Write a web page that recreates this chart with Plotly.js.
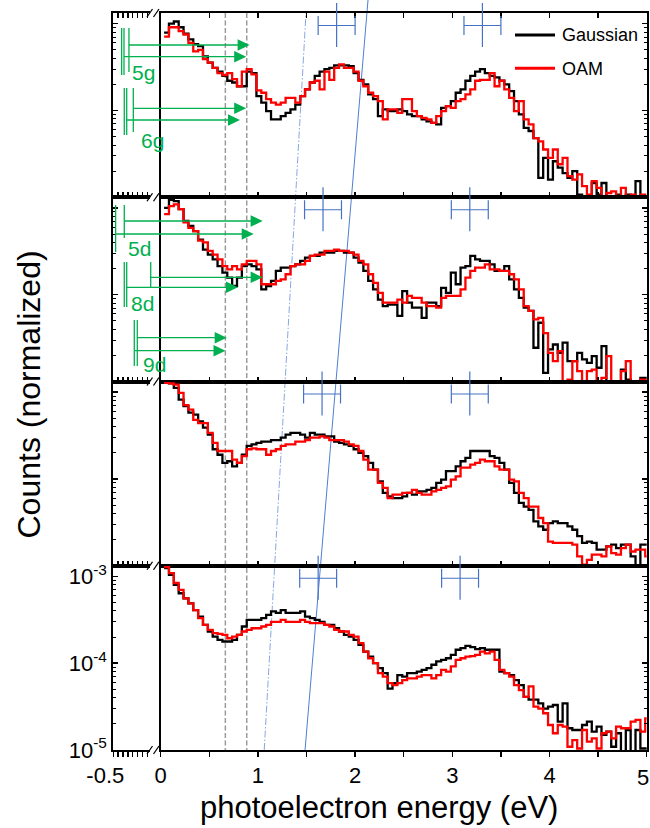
<!DOCTYPE html>
<html><head><meta charset="utf-8">
<script src="https://cdn.plot.ly/plotly-3.0.1.min.js"></script>
<style>html,body{margin:0;padding:0;background:#fff}#chart{width:650px;height:828px}</style>
</head><body><div id="chart"></div>
<script>
// ---------- data ----------
const binStart = 0.035, binWidth = 0.05;   // histogram bins (eV)
const seriesNames = ['Gaussian', 'OAM'];

const gaussP1 = [7.9e-4,1.0e-3,1.06e-3,9.1e-4,7.7e-4,6.6e-4,5.8e-4,5.5e-4,4.2e-4,3.55e-4,
 3.1e-4,2.8e-4,2.5e-4,2.2e-4,2.1e-4,1.9e-4,1.9e-4,2.8e-4,2.7e-4,1.46e-4,
 1.23e-4,9.8e-5,7.9e-5,7.9e-5,8.6e-5,9.4e-5,1.03e-4,1.17e-4,1.46e-4,1.75e-4,
 2.1e-4,2.5e-4,2.8e-4,3.0e-4,3.1e-4,3.3e-4,3.3e-4,3.3e-4,3.25e-4,2.7e-4,
 2.25e-4,2.0e-4,1.53e-4,1.35e-4,8.6e-5,1.03e-4,9.8e-5,9.8e-5,1.03e-4,9.8e-5,
 9.0e-5,8.6e-5,8.6e-5,7.9e-5,7.5e-5,7.2e-5,6.9e-5,1.07e-4,1.12e-4,1.28e-4,
 1.6e-4,1.75e-4,2.2e-4,2.5e-4,2.8e-4,3.0e-4,2.7e-4,2.5e-4,2.4e-4,2.2e-4,
 2.0e-4,1.67e-4,1.28e-4,9.0e-5,6.3e-5,5.8e-5,4.8e-5,1.67e-5,2.85e-5,1.6e-5,
 2.6e-5,2.2e-5,1.9e-5,1.67e-5,2.0e-5,1.07e-5,9e-6,1.03e-5,1.46e-5,1.07e-5,
 1.46e-5,9e-6,9e-6,1.07e-5,9e-6,1.07e-5,9e-6,1.53e-5,9e-6,1.03e-5];
const oamP1 = [7.1e-4,9.1e-4,9.1e-4,8.2e-4,7.5e-4,6.0e-4,4.8e-4,5.0e-4,3.9e-4,3.55e-4,
 3.1e-4,2.7e-4,2.55e-4,2.7e-4,2.3e-4,1.9e-4,2.8e-4,3.0e-4,2.6e-4,1.7e-4,
 1.6e-4,1.35e-4,1.23e-4,1.17e-4,1.23e-4,1.4e-4,1.4e-4,1.23e-4,1.46e-4,1.75e-4,
 2.1e-4,2.2e-4,1.75e-4,2.8e-4,2.25e-4,3.1e-4,3.4e-4,3.1e-4,3.1e-4,2.8e-4,
 2.2e-4,1.9e-4,1.6e-4,1.46e-4,1.28e-4,7.9e-5,1.03e-4,1.03e-4,9.4e-5,1.35e-4,
 1.35e-4,9.8e-5,8.6e-5,8.2e-5,7.9e-5,7.2e-5,8.6e-5,9.8e-5,1.12e-4,1.07e-4,
 1.28e-4,1.35e-4,1.53e-4,1.75e-4,2.2e-4,2.25e-4,2.25e-4,2.7e-4,1.9e-4,2.2e-4,
 1.75e-4,1.4e-4,9.8e-5,1.28e-4,7.9e-5,6.9e-5,4.8e-5,4.4e-5,3.55e-5,2.85e-5,
 3.55e-5,2.4e-5,2.85e-5,1.75e-5,1.6e-5,1.83e-5,1.34e-5,1.07e-5,1.53e-5,1.28e-5,
 9e-6,1.12e-5,1.17e-5,9e-6,1.28e-5,1.03e-5,1.07e-5,1.03e-5,1.07e-5,9e-6];

const gaussP2 = [1.0e-3,1.24e-3,1.2e-3,9.7e-4,7.1e-4,6.2e-4,5.4e-4,4.3e-4,3.3e-4,2.9e-4,
 2.56e-4,2.14e-4,1.8e-4,1.57e-4,1.26e-4,1.57e-4,2.14e-4,2.24e-4,2.14e-4,1.96e-4,
 1.15e-4,1.26e-4,1.44e-4,1.88e-4,2.05e-4,2.05e-4,2.14e-4,2.24e-4,2.45e-4,2.67e-4,
 2.8e-4,2.8e-4,3.05e-4,3.05e-4,3.05e-4,3.2e-4,3.2e-4,3.05e-4,3.05e-4,2.67e-4,
 2.34e-4,1.88e-4,1.44e-4,1.15e-4,8.8e-5,7.4e-5,7.7e-5,7.7e-5,5.7e-5,1.1e-4,
 8.1e-5,7.1e-5,7.1e-5,5.4e-5,8.1e-5,8.1e-5,7.4e-5,1.2e-4,1.05e-4,1.8e-4,
 1.32e-4,2.05e-4,2.14e-4,2.8e-4,2.56e-4,2.45e-4,2.45e-4,2.24e-4,1.88e-4,1.88e-4,
 2.14e-4,1.5e-4,1.15e-4,9.2e-5,7.1e-5,6.5e-5,2.45e-5,4.75e-5,1.26e-5,2.34e-5,
 2.67e-5,2.14e-5,2.8e-5,1.72e-5,1.72e-5,2.14e-5,1.8e-5,1.64e-5,1.96e-5,1.44e-5,
 2.56e-5,9e-6,9e-6,9e-6,1.37e-5,1.05e-5,9e-6,9e-6,1.1e-5,1.1e-5];
const oamP2 = [8.5e-4,1.05e-3,1.1e-3,9.7e-4,6.8e-4,5.9e-4,5.4e-4,4.2e-4,4.0e-4,3.2e-4,
 2.9e-4,2.56e-4,2.14e-4,1.96e-4,2.14e-4,1.96e-4,2.24e-4,2.45e-4,2.45e-4,2.24e-4,
 1.32e-4,1.32e-4,1.32e-4,1.44e-4,1.5e-4,1.72e-4,2.14e-4,2.24e-4,2.24e-4,2.45e-4,
 2.8e-4,2.9e-4,2.9e-4,3.2e-4,3.2e-4,3.3e-4,3.2e-4,3.2e-4,3.05e-4,2.9e-4,
 2.45e-4,2.24e-4,1.72e-4,1.37e-4,1.05e-4,8.1e-5,8.1e-5,8.1e-5,8.8e-5,8.1e-5,
 9.7e-5,9.2e-5,9.2e-5,8.1e-5,7.4e-5,7.4e-5,7.1e-5,9.2e-5,9.7e-5,9.7e-5,
 9.7e-5,1.15e-4,1.57e-4,1.88e-4,2.05e-4,2.05e-4,2.24e-4,1.96e-4,1.96e-4,1.88e-4,
 1.88e-4,1.72e-4,1.5e-4,1.15e-4,7.4e-5,6.5e-5,5.2e-5,5.4e-5,3.6e-5,2.14e-5,
 1.72e-5,2.24e-5,9e-6,1.05e-5,1.72e-5,1.32e-5,9e-6,1.32e-5,1.37e-5,9e-6,
 1.1e-5,1.96e-5,9e-6,9e-6,1.32e-5,1.72e-5,9e-6,9e-6,1.05e-5,1.05e-5];

const gaussP3 = [1.28e-3,1.26e-3,1.12e-3,8.2e-4,6.9e-4,5.8e-4,5.5e-4,4.6e-4,3.9e-4,3.25e-4,
 2.2e-4,1.9e-4,1.53e-4,1.6e-4,1.4e-4,1.53e-4,1.9e-4,2.4e-4,2.5e-4,2.6e-4,
 2.7e-4,2.7e-4,2.8e-4,2.8e-4,3.0e-4,3.25e-4,3.4e-4,3.4e-4,3.25e-4,3.0e-4,
 3.4e-4,3.25e-4,3.25e-4,3.1e-4,3.1e-4,2.7e-4,2.6e-4,2.5e-4,2.4e-4,2.2e-4,
 2.0e-4,1.83e-4,1.53e-4,1.28e-4,9.4e-5,6.9e-5,6.3e-5,6.0e-5,6.0e-5,6.3e-5,
 6.9e-5,6.6e-5,7.2e-5,7.2e-5,7.5e-5,7.9e-5,9.0e-5,9.8e-5,1.23e-4,1.23e-4,
 1.4e-4,1.6e-4,1.75e-4,2.1e-4,2.1e-4,2.1e-4,2.1e-4,1.83e-4,1.75e-4,1.53e-4,
 1.28e-4,9.0e-5,6.9e-5,5.3e-5,4.8e-5,4.4e-5,3.25e-5,2.85e-5,2.6e-5,3.1e-5,
 3.25e-5,3.1e-5,3.1e-5,2.85e-5,2.6e-5,2.2e-5,1.83e-5,1.9e-5,1.83e-5,1.53e-5,
 1.53e-5,1.67e-5,1.75e-5,1.6e-5,1.75e-5,1.75e-5,1.28e-5,9e-6,1.75e-5,1.75e-5];
const oamP3 = [1.28e-3,1.26e-3,1.22e-3,9.8e-4,7.1e-4,6.3e-4,4.8e-4,4.4e-4,4.4e-4,3.4e-4,
 2.6e-4,2.1e-4,2.1e-4,2.1e-4,1.67e-4,1.53e-4,1.83e-4,2.2e-4,2.25e-4,2.2e-4,
 2.2e-4,1.9e-4,2.1e-4,2.2e-4,2.4e-4,2.5e-4,2.5e-4,2.7e-4,2.7e-4,2.8e-4,
 3.0e-4,3.0e-4,3.1e-4,3.0e-4,2.8e-4,2.8e-4,2.8e-4,2.7e-4,2.5e-4,2.4e-4,
 2.1e-4,1.67e-4,1.28e-4,1.28e-4,9.0e-5,7.9e-5,6.0e-5,6.6e-5,6.6e-5,6.9e-5,
 6.9e-5,7.5e-5,6.9e-5,6.6e-5,6.6e-5,7.2e-5,7.5e-5,7.9e-5,8.2e-5,9.8e-5,
 1.07e-4,1.35e-4,1.35e-4,1.46e-4,1.53e-4,1.67e-4,1.6e-4,1.6e-4,1.4e-4,1.28e-4,
 1.28e-4,9.8e-5,9.4e-5,6.9e-5,6.0e-5,4.8e-5,4.8e-5,3.55e-5,3.1e-5,1.9e-5,
 1.83e-5,1.83e-5,1.83e-5,1.83e-5,1.75e-5,1.28e-5,1.03e-5,1.17e-5,1.34e-5,1.34e-5,
 1.28e-5,1.67e-5,1.4e-5,1.34e-5,1.6e-5,1.75e-5,1.46e-5,1.53e-5,1.53e-5,1.28e-5];

const gaussP4 = [1.25e-3,1.04e-3,8.0e-4,6.4e-4,5.6e-4,4.9e-4,4.1e-4,3.45e-4,2.77e-4,2.32e-4,
 2.03e-4,1.86e-4,1.78e-4,1.78e-4,1.86e-4,2.12e-4,2.65e-4,3.16e-4,3.16e-4,3.16e-4,
 3.3e-4,3.6e-4,3.95e-4,3.8e-4,4.1e-4,3.8e-4,3.8e-4,3.8e-4,3.95e-4,3.45e-4,
 3.3e-4,3.16e-4,3.0e-4,2.77e-4,2.77e-4,2.53e-4,2.32e-4,2.12e-4,2.03e-4,1.86e-4,
 1.63e-4,1.36e-4,1.19e-4,1.0e-4,8.8e-5,7.7e-5,5.1e-5,5.9e-5,7.3e-5,7.0e-5,
 7.7e-5,7.7e-5,8.0e-5,8.4e-5,8.8e-5,9.6e-5,1.05e-4,1.09e-4,1.14e-4,1.25e-4,
 1.43e-4,1.49e-4,1.58e-4,1.53e-4,1.45e-4,1.49e-4,1.43e-4,1.43e-4,1.43e-4,8.0e-5,
 7.7e-5,7.3e-5,6.4e-5,5.6e-5,4.1e-5,3.8e-5,3.8e-5,3.45e-5,3.0e-5,3.16e-5,
 3.3e-5,2.12e-5,3.45e-5,1.78e-5,1.7e-5,1.7e-5,1.94e-5,2.12e-5,1.63e-5,1.86e-5,
 1.49e-5,1.63e-5,1.09e-5,1.56e-5,9e-6,1.7e-5,9e-6,1.7e-5,1.04e-5,1.04e-5];
const oamP4 = [1.28e-3,1.09e-3,8.4e-4,7.0e-4,5.6e-4,4.9e-4,4.1e-4,3.3e-4,2.77e-4,2.42e-4,
 2.22e-4,2.18e-4,2.12e-4,1.94e-4,2.03e-4,2.12e-4,2.32e-4,2.42e-4,2.53e-4,2.53e-4,
 2.65e-4,2.77e-4,3.0e-4,3.0e-4,3.16e-4,3.0e-4,3.0e-4,3.0e-4,3.16e-4,3.0e-4,
 2.9e-4,2.9e-4,2.9e-4,2.77e-4,2.65e-4,2.42e-4,2.32e-4,2.32e-4,2.12e-4,2.03e-4,
 1.7e-4,1.36e-4,1.14e-4,1.0e-4,7.7e-5,7.0e-5,5.9e-5,5.6e-5,5.9e-5,6.4e-5,
 6.7e-5,6.7e-5,7.0e-5,7.3e-5,7.3e-5,6.7e-5,7.3e-5,8.4e-5,8.0e-5,9.2e-5,
 1.09e-4,1.14e-4,1.19e-4,1.21e-4,1.25e-4,1.36e-4,1.3e-4,1.36e-4,1.09e-4,8.4e-5,
 7.7e-5,7.0e-5,5.6e-5,4.9e-5,4.1e-5,5.4e-5,3.16e-5,3.0e-5,2.65e-5,1.94e-5,
 1.56e-5,1.94e-5,1.86e-5,1.09e-5,1.3e-5,1.04e-5,1.7e-5,1.25e-5,1.36e-5,1.04e-5,
 1.56e-5,1.63e-5,1.36e-5,1.86e-5,1.78e-5,1.78e-5,2.12e-5,2.22e-5,1.63e-5,2.32e-5];

const gaussPanels = [gaussP1, gaussP2, gaussP3, gaussP4];
const oamPanels = [oamP1, oamP2, oamP3, oamP4];

// peak positions (eV) with horizontal uncertainty
const peakCenters = [[1.81, 3.31], [1.67, 3.18], [1.66, 3.18], [1.62, 3.08]];
const peakHalfWidth = 0.19;

// reference energies (eV)
const markerEnergies = [0.665, 0.885];
const dashDotEnds = [1.065, 1.495];   // bottom, top
const solidLineEnds = [1.485, 2.133]; // bottom, top (extends above)

// Rydberg transition labels
const transitionLabels = ['5g', '6g', '5d', '8d', '9d'];
const transitionBars = [[-0.414, -0.390, -0.339], [-0.387, -0.362, -0.294], [-0.476, -0.387], [-0.387, -0.362, -0.115], [-0.284, -0.253]];
const transitionStarts = [[-0.339, -0.390], [-0.294, -0.362], [-0.387, -0.476], [-0.115, -0.362], [-0.253, -0.284]];
const transitionTips = [[0.903, 0.868], [0.868, 0.804], [1.037, 0.945], [1.037, 0.783], [0.667, 0.655]];

// ticks
const xTickVals = [0, 1, 2, 3, 4];
const xTickText = ['0', '1', '2', '3', '4'];
const xEndLabel = '5';
const xMinorVals = [0.5, 1.5, 2.5, 3.5, 4.5, 5];
const leftTickVals = [-0.5];
const leftTickText = ['-0.5'];
const leftMinorVals = [-0.45, -0.4, -0.35, -0.3, -0.25, -0.2, -0.15];
const yTickVals = [1e-5, 1e-4, 1e-3];
const yTickText = ['10<sup>-5</sup>', '10<sup>-4</sup>', '10<sup>-3</sup>'];
const yMinorDigits = [2, 3, 4, 5, 6, 7, 8, 9];

// ---------- layout geometry (pixels) ----------
const W = 650, H = 828;
const FONT = 'Liberation Sans, Arial, Helvetica, sans-serif';
const rowTop = [13, 197.25, 381.5, 565.75], rowH = 184.25;
const xLeft = [113.3, 150.2], xMain = [160.7, 646.7];
const greenGeom = [
  {bars: [[28, 75], [28, 75], [28, 72]], arrowsY: [45, 56.7], label: [-0.33, 72]},
  {bars: [[88, 135], [88, 135], [88, 132]], arrowsY: [108.3, 120], label: [-0.235, 140.5]},
  {bars: [[205, 252], [205, 238]], arrowsY: [221, 234], label: [-0.37, 248]},
  {bars: [[262, 307], [262, 307], [262, 288]], arrowsY: [277.3, 287.3], label: [-0.338, 303]},
  {bars: [[320, 366], [320, 366]], arrowsY: [337.7, 350.7], label: [-0.217, 364]}
];
const GREEN = '#00b050';
const TICKFONT = {family: FONT, size: 22, color: 'black'};

const id = n => (n === 1 ? '' : String(n));
const yDom = r => [1 - (rowTop[r] + rowH) / H, 1 - rowTop[r] / H];
const minorY = [];
yTickVals.forEach(d => yMinorDigits.forEach(m => minorY.push(m * d)));

const binEdges = [];
for (let k = 0; k <= gaussP1.length; k++) binEdges.push(+(binStart + binWidth * k).toFixed(3));

const common = {showgrid: false, zeroline: false, showline: true, linecolor: 'black', linewidth: 2,
  tickcolor: 'black', tickwidth: 1.5, ticklen: 5, tickfont: TICKFONT};

const layout = {
  width: W, height: H, margin: {l: 0, r: 0, t: 0, b: 0},
  paper_bgcolor: 'white', plot_bgcolor: 'rgba(0,0,0,0)', showlegend: false,
  shapes: [], annotations: []
};
const data = [];

for (let r = 0; r < 4; r++) {
  const iL = 2 * r + 1, iM = 2 * r + 2;
  const last = r === 3;
  const xt = last ? 'outside' : 'inside';
  const xl = {
    domain: [xLeft[0] / W, xLeft[1] / W], range: [-0.5, -0.12], anchor: 'y' + id(iL),
    tickmode: 'array', tickvals: leftTickVals,
    ticks: xt, mirror: r === 0 ? 'ticks' : true, showticklabels: last,
    minor: {ticks: xt, ticklen: 5, tickwidth: 1.5, tickcolor: 'black', tickmode: 'array', tickvals: leftMinorVals}
  };
  if (last) Object.assign(xl, {ticktext: leftTickText, ticklabelshift: -8, ticklabeloverflow: 'allow'});
  layout['xaxis' + id(iL)] = Object.assign({}, common, xl);

  const yl = {
    type: 'log', domain: yDom(r), range: [-5, -2.877], anchor: 'x' + id(iL), side: 'left',
    ticks: 'inside', tickmode: 'array', tickvals: yTickVals, showticklabels: last, mirror: false,
    minor: {ticks: 'inside', ticklen: 2.5, tickwidth: 1, tickcolor: 'black', tickmode: 'array', tickvals: minorY}
  };
  if (last) Object.assign(yl, {ticktext: yTickText, ticklabeloverflow: 'allow'});
  layout['yaxis' + id(iL)] = Object.assign({}, common, yl);

  const xm = {
    domain: [xMain[0] / W, xMain[1] / W], range: [0, 5], anchor: 'y' + id(iM),
    tickmode: 'array', tickvals: xTickVals,
    ticks: xt, mirror: r === 0 ? 'ticks' : true, showticklabels: last,
    minor: {ticks: xt, ticklen: 5, tickwidth: 1.5, tickcolor: 'black', tickmode: 'array', tickvals: xMinorVals}
  };
  if (last) xm.ticktext = xTickText;
  layout['xaxis' + id(iM)] = Object.assign({}, common, xm);

  layout['yaxis' + id(iM)] = Object.assign({}, common, {
    type: 'log', domain: yDom(r), range: [-5, -2.877], anchor: 'x' + id(iM), side: 'right',
    ticks: 'inside', tickmode: 'array', tickvals: yTickVals, showticklabels: false, mirror: true,
    minor: {ticks: 'inside', ticklen: 2.5, tickwidth: 1, tickcolor: 'black', tickmode: 'array', tickvals: minorY}
  });

  // empty trace so the left (broken-axis) segment is created
  data.push({x: [], y: [], xaxis: 'x' + id(iL), yaxis: 'y' + id(iL), type: 'scatter', mode: 'lines', hoverinfo: 'skip'});

  [[gaussPanels[r], 'black', seriesNames[0]], [oamPanels[r], '#ff0000', seriesNames[1]]].forEach(([vals, col, nm]) => {
    data.push({x: binEdges, y: vals.concat([vals[vals.length - 1]]), name: nm,
      xaxis: 'x' + id(iM), yaxis: 'y' + id(iM), type: 'scatter', mode: 'lines',
      line: {shape: 'hv', color: col, width: 2.3}, hoverinfo: 'skip'});
  });

  // peak crosses
  const top = rowTop[r];
  peakCenters[r].forEach(c => {
    const ln = {color: '#4472c4', width: 1.2};
    const base = {type: 'line', xref: 'x2', yref: 'y9', line: ln, layer: 'above'};
    layout.shapes.push(Object.assign({}, base, {x0: c - peakHalfWidth, x1: c + peakHalfWidth, y0: top + 12.5, y1: top + 12.5}));
    layout.shapes.push(Object.assign({}, base, {x0: c - peakHalfWidth, x1: c - peakHalfWidth, y0: top + 3, y1: top + 22}));
    layout.shapes.push(Object.assign({}, base, {x0: c + peakHalfWidth, x1: c + peakHalfWidth, y0: top + 3, y1: top + 22}));
    layout.shapes.push(Object.assign({}, base, {x0: c, x1: c, y0: top - 10, y1: top + 34}));
  });
}

// overlay axes: eV across the full width (incl. break) and pixel rows
layout.xaxis9 = {domain: [xLeft[0] / W, xMain[1] / W], range: [-0.5, 4.99], anchor: 'y9', visible: false, fixedrange: true};
layout.yaxis9 = {domain: [0, 1], range: [H, 0], anchor: 'x9', visible: false, fixedrange: true};

// reference vertical lines
markerEnergies.forEach(e => layout.shapes.push({type: 'line', xref: 'x2', yref: 'y9', x0: e, x1: e, y0: 13, y1: 750,
  line: {color: '#9a9a9a', width: 1.5, dash: '5px,2.5px'}, layer: 'below'}));
layout.shapes.push({type: 'line', xref: 'x2', yref: 'y9', x0: dashDotEnds[0], x1: dashDotEnds[1], y0: 750, y1: 13,
  line: {color: '#86a8e2', width: 1, dash: '7px,2px,1.5px,2px'}, layer: 'below'});
layout.shapes.push({type: 'line', xref: 'x2', yref: 'y9', x0: solidLineEnds[0], x1: solidLineEnds[1], y0: 750, y1: 0,
  line: {color: '#4d7fd1', width: 1}, layer: 'below'});

// green transition marks
const headLen = 12 / 97.16, headHalf = 5.8;
transitionLabels.forEach((lab, g) => {
  const geo = greenGeom[g];
  transitionBars[g].forEach((e, b) => layout.shapes.push({type: 'line', xref: 'x9', yref: 'y9',
    x0: e, x1: e, y0: geo.bars[b][0], y1: geo.bars[b][1], line: {color: GREEN, width: 1.3}}));
  transitionTips[g].forEach((tip, a) => {
    const y = geo.arrowsY[a];
    layout.shapes.push({type: 'line', xref: 'x9', yref: 'y9', x0: transitionStarts[g][a], x1: tip - headLen * 0.9,
      y0: y, y1: y, line: {color: GREEN, width: 1.3}});
    layout.shapes.push({type: 'path', xref: 'x9', yref: 'y9', fillcolor: GREEN, line: {width: 0},
      path: `M ${tip},${y} L ${tip - headLen},${y - headHalf} L ${tip - headLen},${y + headHalf} Z`});
  });
  layout.annotations.push({xref: 'x9', yref: 'y9', x: geo.label[0], y: geo.label[1], text: lab, showarrow: false,
    xanchor: 'left', yanchor: 'middle', font: {family: FONT, size: 21, color: GREEN}});
});

// axis break marks
const P = (x, y) => [x / W, 1 - y / H];
[13, 197.25, 381.5, 565.75, 750].forEach(y => {
  [[147, 152.5], [153.5, 159]].forEach(([a, b]) => {
    const p0 = P(a, y + 4), p1 = P(b, y - 4);
    layout.shapes.push({type: 'line', xref: 'paper', yref: 'paper', x0: p0[0], y0: p0[1], x1: p1[0], y1: p1[1],
      line: {color: 'black', width: 1.3}});
  });
});

// last x tick label kept fully inside the page
const e5 = P(650, 777);
layout.annotations.push({xref: 'paper', yref: 'paper', x: e5[0], y: e5[1], text: xEndLabel, showarrow: false,
  xanchor: 'right', yanchor: 'middle', font: TICKFONT, borderpad: 0});

// legend (drawn manually)
[[35, 'black', seriesNames[0]], [68.3, '#ff0000', seriesNames[1]]].forEach(([y, col, nm]) => {
  const a = P(515, y), b = P(555, y);
  layout.shapes.push({type: 'line', xref: 'paper', yref: 'paper', x0: a[0], y0: a[1], x1: b[0], y1: b[1],
    line: {color: col, width: 3}});
  const t = P(560, y + 0.5);
  layout.annotations.push({xref: 'paper', yref: 'paper', x: t[0], y: t[1], text: nm, showarrow: false,
    xanchor: 'left', yanchor: 'middle', font: {family: FONT, size: 18, color: 'black'}});
});

// axis titles
const xtl = P(379, 807), ytl = P(28.5, 395);
layout.annotations.push({xref: 'paper', yref: 'paper', x: xtl[0], y: xtl[1], text: 'photoelectron energy (eV)',
  showarrow: false, xanchor: 'center', yanchor: 'middle', font: {family: FONT, size: 31, color: 'black'}});
layout.annotations.push({xref: 'paper', yref: 'paper', x: ytl[0], y: ytl[1], text: 'Counts (normalized)', textangle: -90,
  showarrow: false, xanchor: 'center', yanchor: 'middle', font: {family: FONT, size: 32, color: 'black'}});

Plotly.newPlot('chart', data, layout, {displayModeBar: false, staticPlot: true});
</script></body></html>
